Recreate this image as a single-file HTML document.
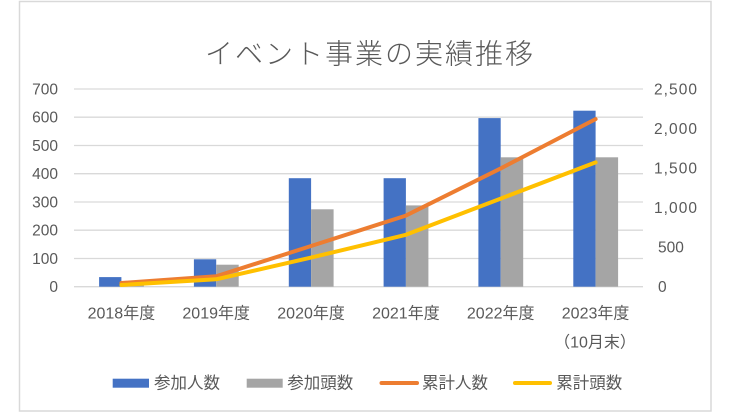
<!DOCTYPE html>
<html><head><meta charset="utf-8">
<style>
html,body{margin:0;padding:0;background:#fff;}
svg{display:block;}
text{font-family:"Liberation Sans","Noto Sans CJK JP",sans-serif;fill:#595959;}
</style></head>
<body>
<svg width="736" height="414" viewBox="0 0 736 414" xmlns="http://www.w3.org/2000/svg">
<rect x="0" y="0" width="736" height="414" fill="#fff"/>
<rect x="19.5" y="1.5" width="691.5" height="409.5" fill="#fff" stroke="#d9d9d9" stroke-width="1.5"/>
<text x="370" y="63.5" text-anchor="middle" font-size="28" letter-spacing="2" font-weight="300" style="font-family:'Noto Sans CJK JP',sans-serif">イベント事業の実績推移</text>
<g stroke="#d9d9d9" stroke-width="1.3">
<line x1="74" y1="89" x2="643" y2="89"/>
<line x1="74" y1="117.2" x2="643" y2="117.2"/>
<line x1="74" y1="145.5" x2="643" y2="145.5"/>
<line x1="74" y1="173.7" x2="643" y2="173.7"/>
<line x1="74" y1="202" x2="643" y2="202"/>
<line x1="74" y1="230.2" x2="643" y2="230.2"/>
<line x1="74" y1="258.5" x2="643" y2="258.5"/>
<line x1="74" y1="286.7" x2="643" y2="286.7"/>
</g>
<g font-size="15.5" text-anchor="end">
<text x="58" y="94.5">700</text>
<text x="58" y="122.7">600</text>
<text x="58" y="151">500</text>
<text x="58" y="179.2">400</text>
<text x="58" y="207.5">300</text>
<text x="58" y="235.7">200</text>
<text x="58" y="264">100</text>
<text x="58" y="292.2">0</text>
</g>
<g font-size="15.5">
<text x="654" y="94.5" textLength="43" lengthAdjust="spacing">2,500</text>
<text x="654" y="134" textLength="43" lengthAdjust="spacing">2,000</text>
<text x="654" y="173.6" textLength="43" lengthAdjust="spacing">1,500</text>
<text x="654" y="213.1" textLength="43" lengthAdjust="spacing">1,000</text>
<text x="658" y="252.7">500</text>
<text x="658" y="292.2">0</text>
</g>
<g fill="#4472C4">
<rect x="99.1" y="277.1" width="22.3" height="9.6"/>
<rect x="193.9" y="259.3" width="22.3" height="27.4"/>
<rect x="288.8" y="178.2" width="22.3" height="108.5"/>
<rect x="383.6" y="178.2" width="22.3" height="108.5"/>
<rect x="478.4" y="118.1" width="22.3" height="168.6"/>
<rect x="573.3" y="110.7" width="22.3" height="176"/>
</g>
<g fill="#A5A5A5">
<rect x="121.4" y="282.2" width="22.5" height="4.5"/>
<rect x="216.2" y="264.7" width="22.5" height="22"/>
<rect x="311.1" y="209.3" width="22.5" height="77.4"/>
<rect x="405.9" y="205.4" width="22.5" height="81.3"/>
<rect x="500.7" y="157.3" width="22.5" height="129.4"/>
<rect x="595.6" y="157.3" width="22.5" height="129.4"/>
</g>
<polyline fill="none" stroke="#ED7D31" stroke-width="4" stroke-linejoin="round" stroke-linecap="round"
 points="121.4,283 216.2,276.3 311.1,246 405.9,215.6 500.7,168.4 595.6,119.1"/>
<polyline fill="none" stroke="#FFC000" stroke-width="4" stroke-linejoin="round" stroke-linecap="round"
 points="121.4,285 216.2,279.3 311.1,257.6 405.9,234.8 500.7,198.6 595.6,162.4"/>
<g font-size="16" text-anchor="middle">
<text x="121.4" y="318.5">2018年度</text>
<text x="216.2" y="318.5">2019年度</text>
<text x="311.1" y="318.5">2020年度</text>
<text x="405.9" y="318.5">2021年度</text>
<text x="500.7" y="318.5">2022年度</text>
<text x="595.6" y="318.5">2023年度</text>
<text x="595" y="347.5">（10月末）</text>
</g>
<rect x="112.7" y="378.7" width="36.3" height="9" fill="#4472C4"/>
<text x="154" y="388.5" font-size="16.5">参加人数</text>
<rect x="246.7" y="378.7" width="36" height="9" fill="#A5A5A5"/>
<text x="287.3" y="388.5" font-size="16.5">参加頭数</text>
<line x1="381.5" y1="383" x2="417" y2="383" stroke="#ED7D31" stroke-width="4" stroke-linecap="round"/>
<text x="422" y="388.5" font-size="16.5">累計人数</text>
<line x1="515" y1="383" x2="550" y2="383" stroke="#FFC000" stroke-width="4" stroke-linecap="round"/>
<text x="556.3" y="388.5" font-size="16.5">累計頭数</text>
</svg>
</body></html>
